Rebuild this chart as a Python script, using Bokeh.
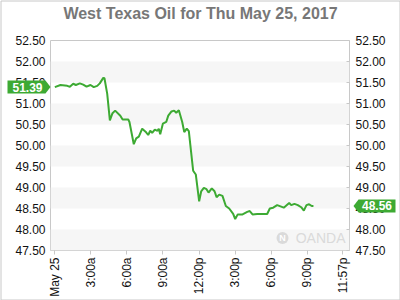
import math
from bokeh.plotting import figure
from bokeh.models import (Range1d, LinearAxis, FixedTicker, BoxAnnotation)
from bokeh.core.properties import value
from bokeh.embed import file_html
from bokeh.resources import INLINE

# ---------------- data ----------------
title_text = "West Texas Oil for Thu May 25, 2017"
hours = [0.00, 0.47, 1.03, 1.25, 1.53, 1.75, 2.08, 2.36, 2.64, 2.97, 3.24, 3.53, 3.74,
         4.03, 4.13, 4.36, 4.58, 4.80, 5.02, 5.45, 5.64, 6.11, 6.21, 6.57, 6.77, 6.99,
         7.27, 7.55, 7.77, 7.94, 8.10, 8.32, 8.54, 8.65, 8.77, 8.99, 9.27, 9.44, 9.71,
         9.93, 10.10, 10.32, 10.60, 10.77, 10.98, 11.15, 11.51, 11.73, 12.01, 12.18,
         12.40, 12.62, 12.79, 13.06, 13.29, 13.46, 13.68, 13.95, 14.23, 14.51, 14.84,
         15.01, 15.22, 15.62, 16.01, 16.22, 16.45, 16.84, 17.67, 17.89, 18.17, 18.50,
         18.78, 19.05, 19.50, 19.67, 19.94, 20.22, 20.50, 20.72, 20.94, 21.16, 21.38,
         21.52]
prices = [51.39, 51.44, 51.42, 51.40, 51.47, 51.44, 51.48, 51.45, 51.40, 51.44, 51.39,
          51.42, 51.48, 51.61, 51.60, 51.23, 50.60, 50.77, 50.83, 50.71, 50.62, 50.62,
          50.56, 50.03, 50.17, 50.21, 50.40, 50.33, 50.25, 50.35, 50.30, 50.38, 50.35,
          50.40, 50.27, 50.52, 50.56, 50.71, 50.81, 50.83, 50.78, 50.84, 50.56, 50.32,
          50.40, 50.34, 49.40, 49.31, 48.67, 48.91, 48.99, 48.96, 48.88, 48.98, 48.91,
          48.77, 48.83, 48.80, 48.56, 48.50, 48.37, 48.25, 48.36, 48.36, 48.42, 48.44,
          48.36, 48.37, 48.37, 48.50, 48.52, 48.58, 48.55, 48.52, 48.63, 48.58, 48.61,
          48.58, 48.53, 48.45, 48.58, 48.60, 48.56, 48.56]
open_price = 51.39
last_price = 48.56
x_ticks = [0, 3, 6, 9, 12, 15, 18, 21, 23.95]
x_labels = ["May 25", "3:00a", "6:00a", "9:00a", "12:00p", "3:00p", "6:00p", "9:00p", "11:57p"]
y_ticks = [47.5, 48.0, 48.5, 49.0, 49.5, 50.0, 50.5, 51.0, 51.5, 52.0, 52.5]
y_labels = ["47.50", "48.00", "48.50", "49.00", "49.50", "50.00", "50.50", "51.00",
            "51.50", "52.00", "52.50"]
watermark = "OANDA"

# ---------------- layout ----------------
W, H = 400, 300
FL, FR, FT, FB = 50, 349, 40, 250
X0, X1 = -0.36, 24.52
Y0, Y1 = 47.5, 52.5
GREEN = "#3daa33"
FONT = "Liberation Sans"


def px2x(px):
    return X0 + (px - FL) / (FR - FL) * (X1 - X0)


def py2y(py):
    return Y0 + (FB - py) / (FB - FT) * (Y1 - Y0)


def dy(pix):
    return pix / (FB - FT) * (Y1 - Y0)


p = figure(width=W, height=H, output_backend="svg", toolbar_location=None,
           x_range=Range1d(X0, X1), y_range=Range1d(Y0, Y1),
           min_border_left=FL, min_border_right=W - FR, min_border_top=FT,
           min_border_bottom=H - FB, x_axis_location=None, y_axis_location=None)
p.title.visible = False
p.background_fill_color = "white"
p.border_fill_color = "white"
p.outline_line_color = "#c8c8c8"
p.outline_line_width = 1
p.xgrid.visible = False
p.ygrid.visible = False

# alternating bands
for i in range(0, len(y_ticks) - 1, 2):
    p.add_layout(BoxAnnotation(bottom=y_ticks[i], top=y_ticks[i + 1],
                               fill_color="#f6f6f6", fill_alpha=1.0, line_color=None,
                               level="underlay"))

yticker = FixedTicker(ticks=y_ticks)
yover = {t: l for t, l in zip(y_ticks, y_labels)}
for side in ("left", "right"):
    ax = LinearAxis(ticker=yticker, major_label_overrides=yover)
    ax.axis_line_color = None
    ax.minor_tick_line_color = None
    ax.major_label_text_font = FONT
    ax.major_label_text_font_size = "12px"
    ax.major_label_text_color = "#111111"
    if side == "left":
        ax.major_tick_line_color = None
        ax.major_tick_out = 0
        ax.major_tick_in = 0
        ax.major_label_standoff = 5
    else:
        ax.major_tick_line_color = "#c8c8c8"
        ax.major_tick_out = 0
        ax.major_tick_in = 3
        ax.major_label_standoff = 6
    p.add_layout(ax, side)

xax = LinearAxis(ticker=FixedTicker(ticks=x_ticks),
                 major_label_overrides={t: l for t, l in zip(x_ticks, x_labels)})
xax.axis_line_color = None
xax.minor_tick_line_color = None
xax.major_tick_line_color = "#c8c8c8"
xax.major_tick_out = 4
xax.major_tick_in = 0
xax.major_label_standoff = 3
xax.major_label_orientation = math.pi / 2
xax.major_label_text_font = FONT
xax.major_label_text_font_size = "12px"
xax.major_label_text_color = "#111111"
p.add_layout(xax, "below")

# watermark
p.scatter([px2x(282)], [py2y(237.5)], size=12, fill_color="#dadada", line_color=None)
p.text([px2x(282)], [py2y(237.5)], text=["N"], text_align="center",
       text_baseline="middle", text_color="white", text_font=value(FONT),
       text_font_size="9px", text_font_style="bold")
p.text([px2x(345)], [py2y(237.5)], text=[watermark], text_align="right",
       text_baseline="middle", text_color="#dadada", text_font=value(FONT),
       text_font_size="14px")

# price line
p.line(hours, prices, line_color=GREEN, line_width=2)

# title (overlay level so it is not clipped to the frame)
p.text([px2x(200)], [py2y(13)], text=[title_text], text_align="center",
       text_baseline="middle", text_color="#777777", text_font=value(FONT),
       text_font_size="16px", text_font_style="bold", level="overlay")


# badges
def badge(val, left_side):
    h = 6.5
    if left_side:
        xs_px = [7, 45, 50, 45, 7]
        cx = 27
    else:
        xs_px = [395, 358, 353, 358, 395]
        cx = 376.5
    ys = [val + dy(h), val + dy(h), val, val - dy(h), val - dy(h)]
    p.patch([px2x(v) for v in xs_px], ys, fill_color=GREEN, line_color=None,
            level="overlay")
    p.text([px2x(cx)], [val], text=[f"{val:.2f}"], text_align="center",
           text_baseline="middle", text_color="white", text_font=value(FONT),
           text_font_size="12px", text_font_style="bold", level="overlay")


badge(open_price, True)
badge(last_price, False)

# outer border
p.line([px2x(0.5), px2x(399.5), px2x(399.5), px2x(0.5), px2x(0.5)],
       [py2y(0.5), py2y(0.5), py2y(299.5), py2y(299.5), py2y(0.5)],
       line_color="#c8c8c8", line_width=1, level="overlay")

open("out.html", "w").write(file_html(p, INLINE))
